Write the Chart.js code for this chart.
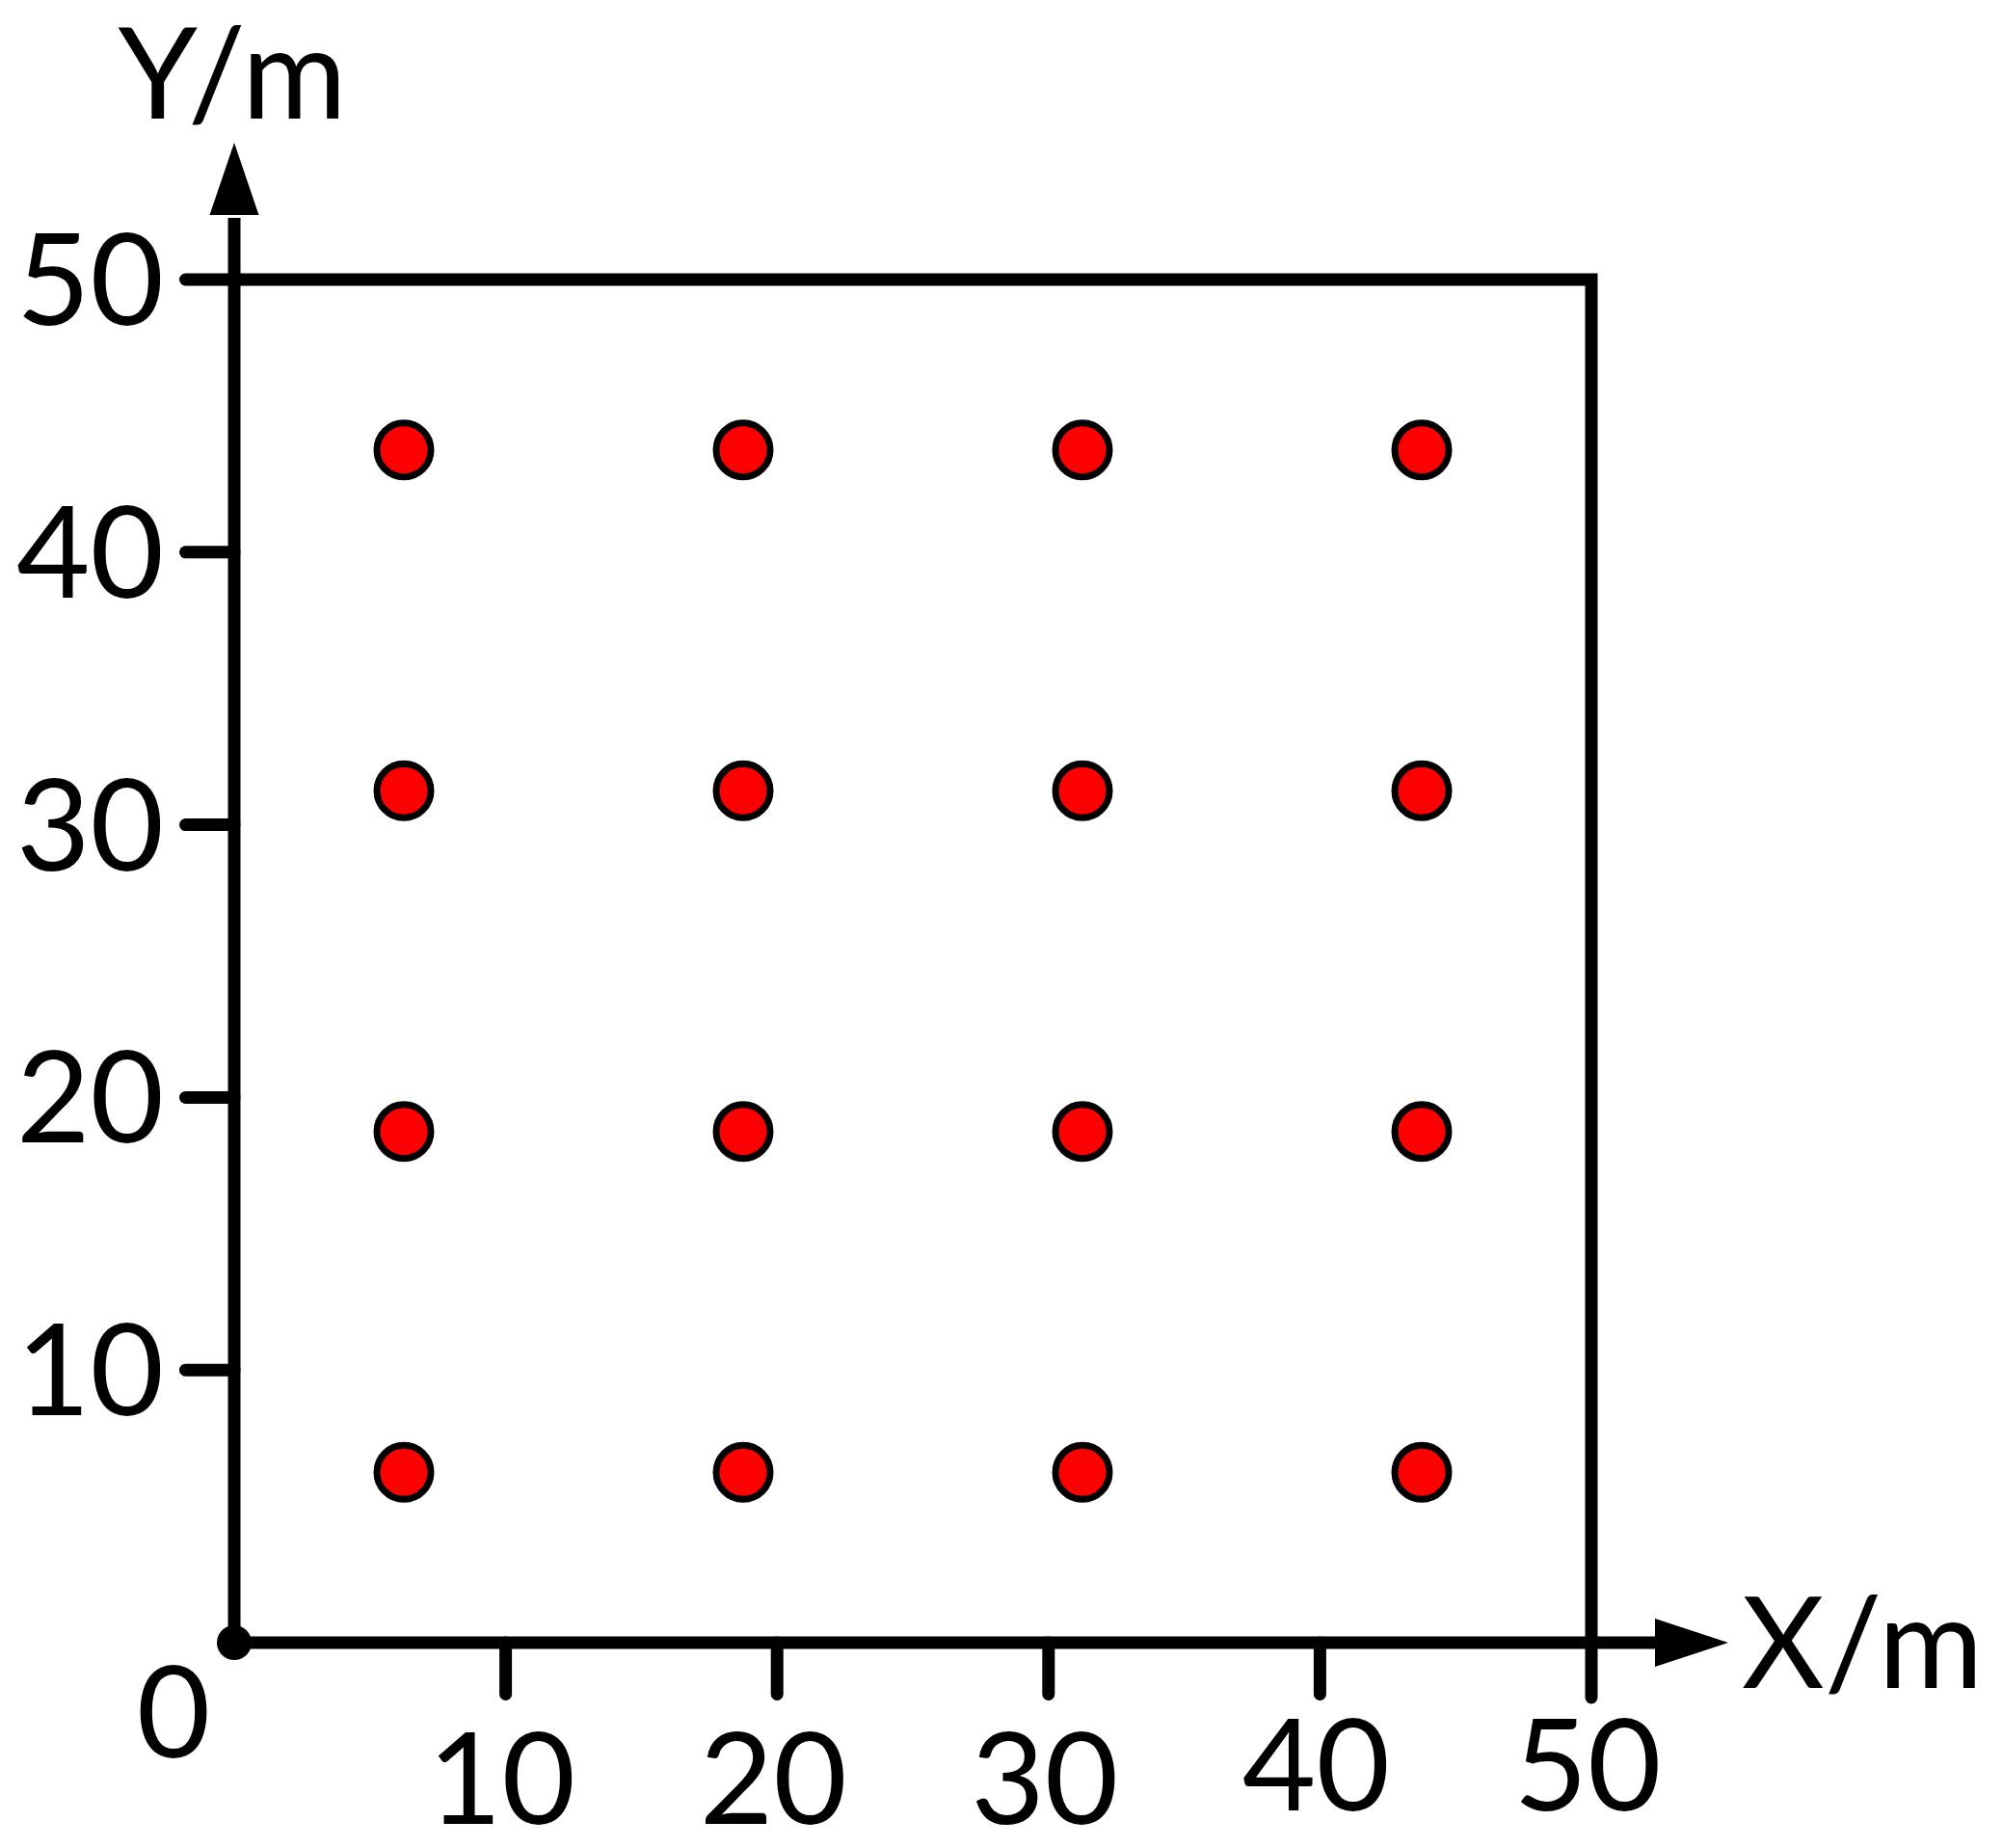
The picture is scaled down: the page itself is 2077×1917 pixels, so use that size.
<!DOCTYPE html>
<html>
<head>
<meta charset="utf-8">
<style>
  html, body { margin: 0; padding: 0; background: #ffffff; }
  #wrap { width: 2077px; height: 1917px; }
</style>
<script src="https://cdn.jsdelivr.net/npm/chart.js@4.4.1/dist/chart.umd.min.js"></script>
</head>
<body>
<div id="wrap"><canvas id="c" width="2077" height="1917"></canvas></div>
<script>
// ---- data ----
const xPositions = [6.25, 18.75, 31.25, 43.75];
const yPositions = [6.25, 18.75, 31.25, 43.75];
const xTicks = [10, 20, 30, 40, 50];
const yTicks = [10, 20, 30, 40, 50];
const originLabel = "0";
const xTitle = "X/m";
const yTitle = "Y/m";
const axisMin = 0;
const axisMax = 50;

// build scatter points (grid of stations)
const points = [];
for (const y of yPositions) for (const x of xPositions) points.push({ x: x, y: y });

// ---- style / layout (not data) ----
const FONT = "132px Lato, 'Open Sans', sans-serif";
const LW = 13;
const TICK = 57;          // tick length outside the axes
const xLabelBaselineDrop = [188, 188, 188, 174, 174]; // px below x-axis
const axisPainter = {
  id: 'axisPainter',
  beforeDatasetsDraw(chart) {
    const ctx = chart.ctx;
    const xs = chart.scales.x, ys = chart.scales.y;
    const x0 = xs.getPixelForValue(axisMin), y0 = ys.getPixelForValue(axisMin);
    const xMaxPx = xs.getPixelForValue(axisMax), yMaxPx = ys.getPixelForValue(axisMax);
    ctx.save();
    ctx.strokeStyle = '#000'; ctx.fillStyle = '#000';
    ctx.lineWidth = LW;

    // Y axis with arrow
    ctx.lineCap = 'butt';
    ctx.beginPath(); ctx.moveTo(x0, y0); ctx.lineTo(x0, yMaxPx - 64); ctx.stroke();
    ctx.beginPath();
    ctx.moveTo(x0, yMaxPx - 142);
    ctx.lineTo(x0 - 25.5, yMaxPx - 67);
    ctx.lineTo(x0 + 25.5, yMaxPx - 67);
    ctx.closePath(); ctx.fill();

    // X axis with arrow
    ctx.beginPath(); ctx.moveTo(x0, y0); ctx.lineTo(xMaxPx + 70, y0); ctx.stroke();
    ctx.beginPath();
    ctx.moveTo(xMaxPx + 142, y0);
    ctx.lineTo(xMaxPx + 66, y0 - 25);
    ctx.lineTo(xMaxPx + 66, y0 + 25);
    ctx.closePath(); ctx.fill();

    // Frame (top and right) incl. their ticks
    ctx.lineCap = 'round'; ctx.lineJoin = 'miter';
    ctx.beginPath();
    ctx.moveTo(x0 - TICK + LW / 2, yMaxPx);
    ctx.lineTo(xMaxPx, yMaxPx);
    ctx.lineTo(xMaxPx, y0 + TICK + LW / 2 - LW / 2);
    ctx.stroke();

    // ticks
    for (const v of yTicks) {
      if (v === axisMax) continue;
      const py = ys.getPixelForValue(v);
      ctx.beginPath(); ctx.moveTo(x0 - TICK + LW / 2, py); ctx.lineTo(x0, py); ctx.stroke();
    }
    for (const v of xTicks) {
      if (v === axisMax) continue;
      const px = xs.getPixelForValue(v);
      ctx.beginPath(); ctx.moveTo(px, y0); ctx.lineTo(px, y0 + TICK - LW / 2 + 3); ctx.stroke();
    }

    // origin dot
    ctx.beginPath(); ctx.arc(x0, y0, 18, 0, Math.PI * 2); ctx.fill();

    // labels
    ctx.font = FONT;
    ctx.textBaseline = 'alphabetic';
    ctx.textAlign = 'right';
    for (const v of yTicks) {
      const py = ys.getPixelForValue(v);
      ctx.fillText(String(v), x0 - 73, py + 47);
    }
    ctx.textAlign = 'center';
    xTicks.forEach((v, i) => {
      const px = xs.getPixelForValue(v);
      ctx.fillText(String(v), px - 4, y0 + xLabelBaselineDrop[i]);
    });
    ctx.fillText(originLabel, x0 - 63, y0 + 119);

    // titles
    ctx.fillText(yTitle, x0 - 2, yMaxPx - 167);
    ctx.textAlign = 'left';
    ctx.fillText(xTitle, xMaxPx + 156, y0 + 47);
    ctx.restore();
  }
};

new Chart(document.getElementById('c'), {
  type: 'scatter',
  data: {
    datasets: [{
      label: 'stations',
      data: points,
      pointRadius: 28,
      pointHoverRadius: 28,
      borderWidth: 7,
      pointBorderWidth: 7,
      backgroundColor: '#ff0000',
      borderColor: '#000000'
    }]
  },
  options: {
    responsive: false,
    animation: false,
    devicePixelRatio: 1,
    layout: { padding: { left: 243, right: 426, top: 290, bottom: 213 } },
    plugins: { legend: { display: false }, tooltip: { enabled: false } },
    events: [],
    scales: {
      x: { type: 'linear', min: axisMin, max: axisMax, display: false },
      y: { type: 'linear', min: axisMin, max: axisMax, display: false }
    }
  },
  plugins: [axisPainter]
});
</script>
</body>
</html>
